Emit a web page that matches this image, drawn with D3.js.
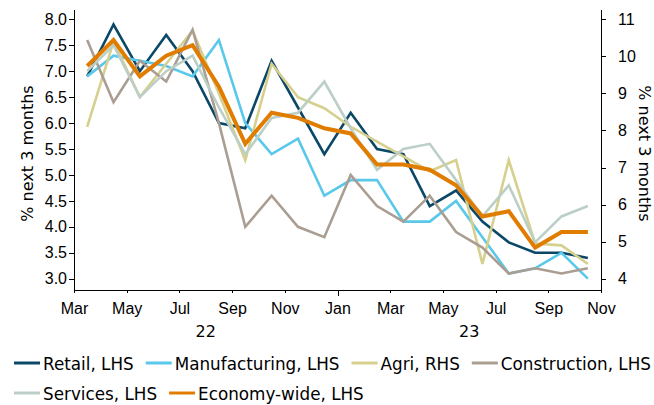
<!DOCTYPE html>
<html>
<head>
<meta charset="utf-8">
<script src="https://cdn.jsdelivr.net/npm/d3@7"></script>
<style>
  body { margin: 0; background: #fff; }
  svg { display: block; font-family: "DejaVu Sans", Verdana, sans-serif; }
  .axis text { font-size: 16px; fill: #000; }
  .axis path, .axis line { stroke: #000; shape-rendering: crispEdges; }
  .legend text { font-size: 16.8px; fill: #000; }
</style>
</head>
<body>
<div id="chart"></div>
<script>
// months Mar 2022 .. Oct 2023
const months = [
  "2022-03", "2022-04", "2022-05", "2022-06", "2022-07", "2022-08", "2022-09",
  "2022-10", "2022-11", "2022-12", "2023-01", "2023-02", "2023-03", "2023-04",
  "2023-05", "2023-06", "2023-07", "2023-08", "2023-09", "2023-10"
];
const tickLabels = ["Mar", "May", "Jul", "Sep", "Nov", "Jan", "Mar", "May", "Jul", "Sep", "Nov"];
const yearLabels = ["22", "23"];
const leftTicks = [3.0, 3.5, 4.0, 4.5, 5.0, 5.5, 6.0, 6.5, 7.0, 7.5, 8.0];
const rightTicks = [4, 5, 6, 7, 8, 9, 10, 11];

const retail = [6.9, 7.9, 7.0, 7.7, 7.0, 6.0, 5.9, 7.2, 6.3, 5.4, 6.2, 5.5, 5.4, 4.4, 4.7, 4.1, 3.7, 3.5, 3.5, 3.4];
const manufacturing = [6.9, 7.3, 7.2, 7.1, 6.9, 7.6, 6.0, 5.4, 5.7, 4.6, 4.9, 4.9, 4.1, 4.1, 4.5, 3.8, 3.1, 3.2, 3.5, 3.0];
const agri = [8.1, 10.4, 8.9, 9.8, 10.7, 9.0, 7.2, 9.8, 8.9, 8.6, 8.1, 7.7, 7.3, 6.9, 7.2, 4.4, 7.2, 4.95, 4.9, 4.4];
const construction = [7.6, 6.4, 7.2, 6.8, 7.8, 6.0, 4.0, 4.6, 4.0, 3.8, 5.0, 4.4, 4.1, 4.6, 3.9, 3.6, 3.1, 3.2, 3.1, 3.2];
const services = [7.0, 7.5, 6.5, 7.0, 7.3, 6.3, 5.4, 6.1, 6.2, 6.8, 5.9, 5.1, 5.5, 5.6, 4.9, 4.2, 4.8, 3.7, 4.2, 4.4];
const economyWide = [7.1, 7.6, 6.9, 7.3, 7.5, 6.7, 5.6, 6.2, 6.1, 5.9, 5.8, 5.2, 5.2, 5.1, 4.8, 4.2, 4.3, 3.6, 3.9, 3.9];

const seriesNames = ["Retail, LHS", "Manufacturing, LHS", "Agri, RHS", "Construction, LHS", "Services, LHS", "Economy-wide, LHS"];

const series = [
  { name: seriesNames[0], values: retail, axis: "L", colour: "#0b4868", width: 2.6 },
  { name: seriesNames[1], values: manufacturing, axis: "L", colour: "#5ac8ea", width: 2.6 },
  { name: seriesNames[2], values: agri, axis: "R", colour: "#d6d08e", width: 2.6 },
  { name: seriesNames[3], values: construction, axis: "L", colour: "#aa9d92", width: 2.6 },
  { name: seriesNames[4], values: services, axis: "L", colour: "#bccfc7", width: 2.6 },
  { name: seriesNames[5], values: economyWide, axis: "L", colour: "#e07c00", width: 4 }
];

const width = 654, height = 405;
const plot = { left: 74, right: 601, top: 9, bottom: 290 };

const svg = d3.select("#chart")
  .append("svg")
  .attr("width", width)
  .attr("height", height);

// month index scale, 0 = start of Mar 2022, 20 = start of Nov 2023
const x = d3.scaleLinear().domain([0, 20]).range([plot.left, plot.right]);
const yL = d3.scaleLinear().domain([2.782, 8.199]).range([plot.bottom, plot.top]);
const yR = d3.scaleLinear().domain([3.695, 11.278]).range([plot.bottom, plot.top]);

// axes
const gX = svg.append("g")
  .attr("class", "axis")
  .attr("transform", `translate(0,${plot.bottom})`)
  .call(d3.axisBottom(x)
    .tickValues(d3.range(0, 21, 2))
    .tickFormat((d, i) => tickLabels[i])
    .tickSize(3)
    .tickSizeOuter(0)
    .tickPadding(10));
gX.selectAll(".tick").filter(d => d === 10).select("line").attr("y2", 6);

svg.append("g")
  .attr("class", "axis")
  .attr("transform", `translate(${plot.left},0)`)
  .call(d3.axisLeft(yL)
    .tickValues(leftTicks)
    .tickFormat(d3.format(".1f"))
    .tickSize(5)
    .tickSizeOuter(0)
    .tickPadding(2));

svg.append("g")
  .attr("class", "axis")
  .attr("transform", `translate(${plot.right},0)`)
  .call(d3.axisRight(yR)
    .tickValues(rightTicks)
    .tickSize(5)
    .tickSizeOuter(0)
    .tickPadding(12));

// year labels
svg.append("g")
  .attr("class", "axis")
  .selectAll("text")
  .data(yearLabels)
  .join("text")
  .attr("x", (d, i) => x(i * 10 + 5))
  .attr("y", 337)
  .attr("text-anchor", "middle")
  .text(d => d);

// axis titles
const titles = svg.append("g").attr("class", "axis");
titles.append("text")
  .attr("transform", `translate(33,${(plot.top + plot.bottom) / 2 + 4}) rotate(-90)`)
  .attr("text-anchor", "middle")
  .text("% next 3 months");
titles.append("text")
  .attr("transform", `translate(639,${(plot.top + plot.bottom) / 2 + 4}) rotate(90)`)
  .attr("text-anchor", "middle")
  .text("% next 3 months");

// lines
const lineFor = s => d3.line()
  .x((d, i) => x(i + 0.5))
  .y(d => (s.axis === "R" ? yR(d) : yL(d)));

svg.append("g")
  .selectAll("path")
  .data(series)
  .join("path")
  .attr("fill", "none")
  .attr("stroke", d => d.colour)
  .attr("stroke-width", d => d.width)
  .attr("stroke-linejoin", "miter")
  .attr("d", d => lineFor(d)(d.values));

// legend
const legend = svg.append("g").attr("class", "legend");
const rows = [[0, 1, 2, 3], [4, 5]];
const rowY = [363, 393];
rows.forEach((row, r) => {
  let cx = 14;
  row.forEach(k => {
    const s = series[k];
    const g = legend.append("g").attr("transform", `translate(${cx},${rowY[r]})`);
    g.append("line")
      .attr("x1", 0).attr("x2", 26)
      .attr("stroke", s.colour)
      .attr("stroke-width", 3);
    const t = g.append("text")
      .attr("x", 29)
      .attr("y", 6.5)
      .text(s.name);
    cx += 29 + t.node().getComputedTextLength() + 12;
  });
});
</script>
</body>
</html>
